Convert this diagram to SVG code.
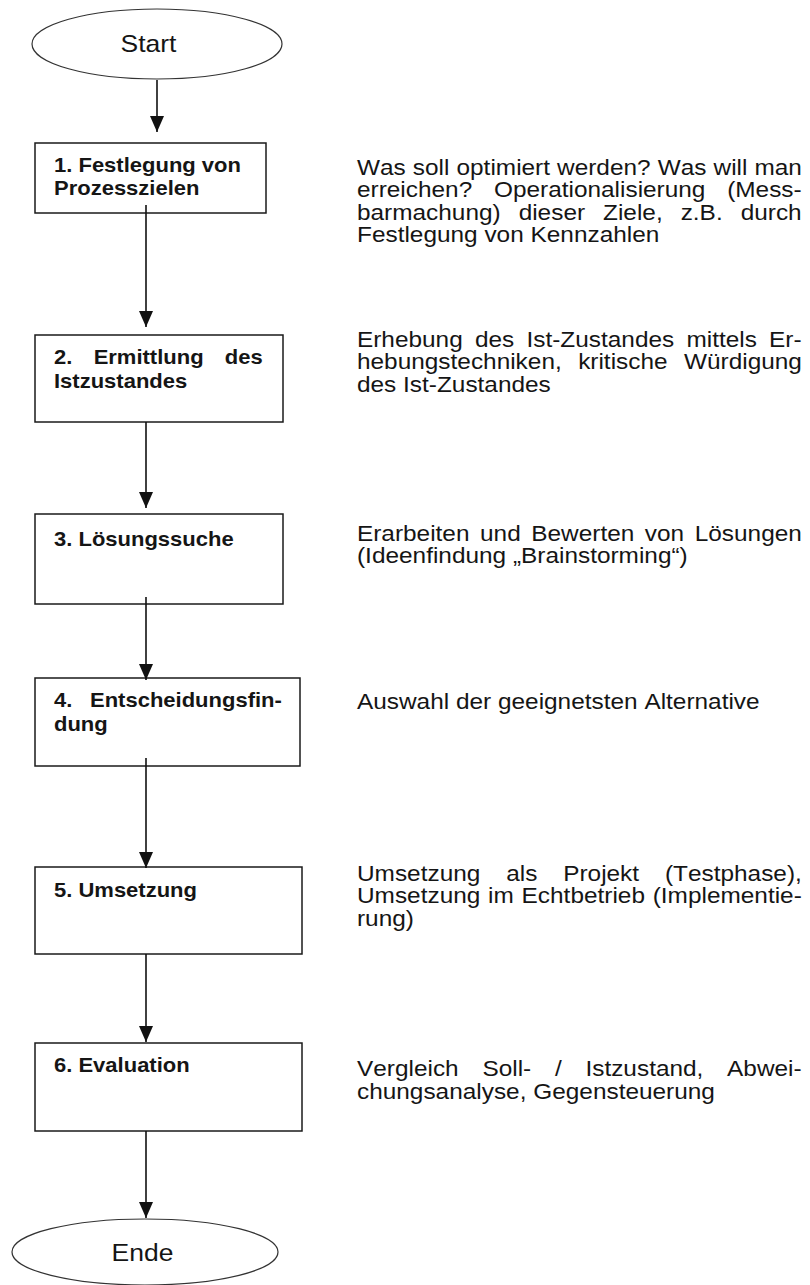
<svg xmlns="http://www.w3.org/2000/svg" width="810" height="1285" viewBox="0 0 810 1285">
  <style>
    .term { fill: #ffffff; stroke: #333333; stroke-width: 1.2; }
    .box { fill: #ffffff; stroke: #1a1a1a; stroke-width: 1.5; }
    .edge { fill: none; stroke: #111111; stroke-width: 1.6; }
    .head { fill: #111111; }
    text { font-family: "Liberation Sans", Arial, sans-serif; fill: #151515; font-kerning: none; }
    .tlabel { font-size: 24px; text-anchor: middle; }
    .blabel { font-size: 20px; font-weight: bold; }
    .note { font-size: 22px; }
  </style>
  <defs>
    <marker id="arrow" markerUnits="userSpaceOnUse" markerWidth="16" markerHeight="14" refX="16" refY="7" orient="auto">
      <path class="head" d="M0,0 L16,7 L0,14 Z"/>
    </marker>
  </defs>

  <rect width="810" height="1285" fill="#ffffff"/>

  <!-- terminals (labels set slightly wide: scaled horizontally) -->
  <g id="start">
    <ellipse class="term" cx="157" cy="44" rx="125" ry="35"/>
    <text class="tlabel" transform="scale(1.104,1)" x="134.5" y="52">Start</text>
  </g>
  <g id="ende">
    <ellipse class="term" cx="145" cy="1252" rx="133" ry="33"/>
    <text class="tlabel" transform="scale(1.104,1)" x="129.1" y="1261">Ende</text>
  </g>

  <!-- process steps -->
  <g id="step1">
    <rect class="box" x="35" y="143" width="231" height="70"/>
    <g transform="scale(1.1,1)">
      <text class="blabel" x="49.1" y="172">1. Festlegung von</text>
      <text class="blabel" x="49.1" y="195">Prozesszielen</text>
    </g>
  </g>
  <g id="step2">
    <rect class="box" x="35" y="335" width="248" height="87"/>
    <g transform="scale(1.1,1)">
      <text class="blabel" x="49.1" y="364" style="word-spacing:13.8px">2. Ermittlung des</text>
      <text class="blabel" x="49.1" y="388">Istzustandes</text>
    </g>
  </g>
  <g id="step3">
    <rect class="box" x="35" y="514" width="248" height="90"/>
    <g transform="scale(1.1,1)">
      <text class="blabel" x="49.1" y="546">3. Lösungssuche</text>
    </g>
  </g>
  <g id="step4">
    <rect class="box" x="35" y="678" width="265" height="88"/>
    <g transform="scale(1.1,1)">
      <text class="blabel" x="49.1" y="707" style="word-spacing:10.5px">4. Entscheidungsfin-</text>
      <text class="blabel" x="49.1" y="731">dung</text>
    </g>
  </g>
  <g id="step5">
    <rect class="box" x="35" y="867" width="267" height="87"/>
    <g transform="scale(1.1,1)">
      <text class="blabel" x="49.1" y="897">5. Umsetzung</text>
    </g>
  </g>
  <g id="step6">
    <rect class="box" x="35" y="1043" width="267" height="88"/>
    <g transform="scale(1.1,1)">
      <text class="blabel" x="49.1" y="1072">6. Evaluation</text>
    </g>
  </g>

  <!-- connectors (drawn over the boxes so the short stubs inside them show) -->
  <g id="connectors">
    <line class="edge" x1="157" y1="80" x2="157" y2="132" marker-end="url(#arrow)"/>
    <line class="edge" x1="146" y1="205" x2="146" y2="327" marker-end="url(#arrow)"/>
    <line class="edge" x1="146" y1="422" x2="146" y2="508" marker-end="url(#arrow)"/>
    <line class="edge" x1="146" y1="597" x2="146" y2="680" marker-end="url(#arrow)"/>
    <line class="edge" x1="146" y1="758" x2="146" y2="868" marker-end="url(#arrow)"/>
    <line class="edge" x1="146" y1="954" x2="146" y2="1042" marker-end="url(#arrow)"/>
    <line class="edge" x1="146" y1="1131" x2="146" y2="1218" marker-end="url(#arrow)"/>
  </g>

  <!-- step descriptions, justified column from x=357 to x=802 -->
  <g id="note1" transform="scale(1.109,1)">
    <text class="note" x="321.9" y="175" style="word-spacing:0.27px">Was soll optimiert werden? Was will man</text>
    <text class="note" x="321.9" y="197.5" style="word-spacing:13.5px">erreichen? Operationalisierung (Mess-</text>
    <text class="note" x="321.9" y="220" style="word-spacing:10.1px">barmachung) dieser Ziele, z.B. durch</text>
    <text class="note" x="321.9" y="242.5">Festlegung von Kennzahlen</text>
  </g>
  <g id="note2" transform="scale(1.109,1)">
    <text class="note" x="321.9" y="347" style="word-spacing:4.9px">Erhebung des Ist-Zustandes mittels Er-</text>
    <text class="note" x="321.9" y="369.5" style="word-spacing:8.7px">hebungstechniken, kritische Würdigung</text>
    <text class="note" x="321.9" y="392">des Ist-Zustandes</text>
  </g>
  <g id="note3" transform="scale(1.109,1)">
    <text class="note" x="321.9" y="541" style="word-spacing:3.4px">Erarbeiten und Bewerten von Lösungen</text>
    <text class="note" x="321.9" y="563.5">(Ideenfindung „Brainstorming“)</text>
  </g>
  <g id="note4" transform="scale(1.109,1)">
    <text class="note" x="321.9" y="709">Auswahl der geeignetsten Alternative</text>
  </g>
  <g id="note5" transform="scale(1.109,1)">
    <text class="note" x="321.9" y="881" style="word-spacing:17.2px">Umsetzung als Projekt (Testphase),</text>
    <text class="note" x="321.9" y="903.5" style="word-spacing:0.9px">Umsetzung im Echtbetrieb (Implementie-</text>
    <text class="note" x="321.9" y="926">rung)</text>
  </g>
  <g id="note6" transform="scale(1.109,1)">
    <text class="note" x="321.9" y="1076" style="word-spacing:15.3px">Vergleich Soll- / Istzustand, Abwei-</text>
    <text class="note" x="321.9" y="1099">chungsanalyse, Gegensteuerung</text>
  </g>
</svg>
